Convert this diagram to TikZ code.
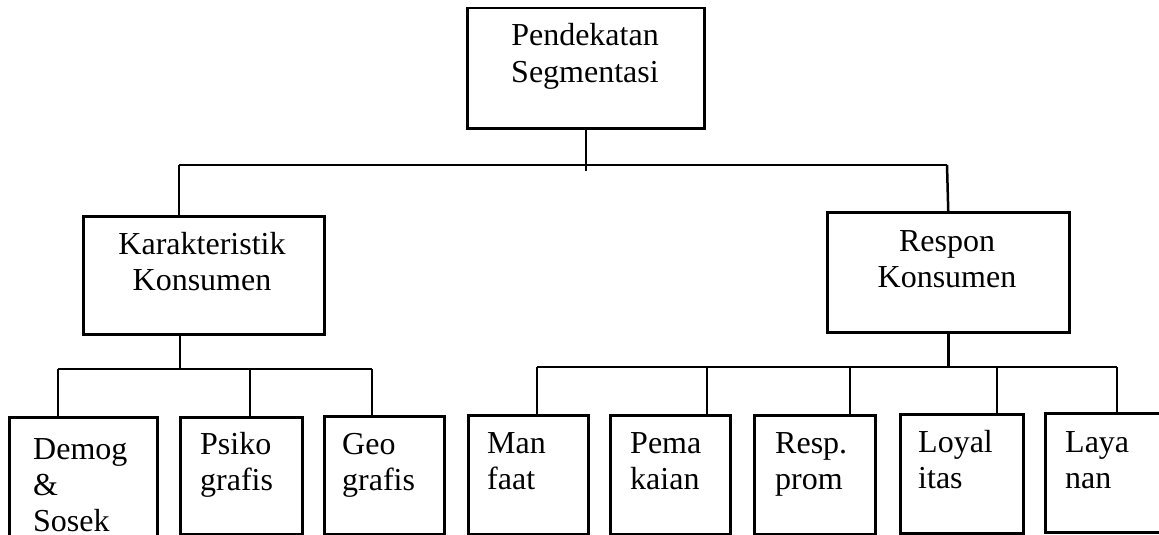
\documentclass[tikz,border=0pt]{standalone}
\usepackage{fontspec}
\setmainfont{Liberation Serif}
\begin{document}
\begin{tikzpicture}[x=1pt,y=-1pt,
  box/.style={draw, line width=2.5pt, inner sep=0pt, anchor=north west},
  wire/.style={line width=2.5pt},
  lbl/.style={inner sep=0pt, font=\fontsize{32}{36}\selectfont},
  lblc/.style={lbl, align=center, anchor=base},
  lbll/.style={lbl, align=left, anchor=base west}]
\useasboundingbox (0,0) rectangle (1159,535);
\clip (0,0) rectangle (1159,535);

% root and second level (label anchors sit on the last line's baseline)
\node[box, minimum width=237pt, minimum height=120pt] (root) at (466,7) {};
\node[box, minimum width=241pt, minimum height=118pt] (kar) at (82,215) {};
\node[box, minimum width=242pt, minimum height=120pt] (res) at (826,211) {};

\node[lblc] (troot) at (585,82) {Pendekatan\\Segmentasi};
\node[lblc] (tkar) at (202,290) {Karakteristik\\Konsumen};
\node[lblc] (tres) at (947,287) {Respon\\Konsumen};

% leaves under Karakteristik Konsumen
\node[box, minimum width=148pt, minimum height=140pt] (demog) at (8,416) {};
\node[box, minimum width=122pt, minimum height=117pt] (psiko) at (179,416) {};
\node[box, minimum width=120pt, minimum height=118pt] (geo) at (323,415) {};

\node[lbll] (tdemog) at (33,531) {Demog\\\&\\Sosek};
\node[lbll] (tpsiko) at (200,490) {Psiko\\grafis};
\node[lbll] (tgeo) at (342,490) {Geo\\grafis};

% leaves under Respon Konsumen
\node[box, minimum width=120pt, minimum height=119pt] (man) at (467,414) {};
\node[box, minimum width=120pt, minimum height=119pt] (pema) at (609,414) {};
\node[box, minimum width=121pt, minimum height=119pt] (resp) at (753,414) {};
\node[box, minimum width=123pt, minimum height=119pt] (loyal) at (899,413) {};
\node[box, minimum width=122pt, minimum height=119pt] (laya) at (1044,412) {};

\node[lbll] (tman) at (487,489) {Man\\faat};
\node[lbll] (tpema) at (630,489) {Pema\\kaian};
\node[lbll] (tresp) at (775,489) {Resp.\\prom};
\node[lbll] (tloyal) at (918,488) {Loyal\\itas};
\node[lbll] (tlaya) at (1065,488) {Laya\\nan};

% first-level bus
\coordinate (hL) at (179,165);
\coordinate (hR) at (947,165);
\draw[wire] (root.south) -- ([yshift=-6pt]root.south |- hL);
\draw[wire] (hL) -- (hR);
\draw[wire] (hL) -- (hL |- kar.north);
\draw[wire] (hR) -- (res.north);

% bus below Karakteristik Konsumen
\coordinate (kd) at (180,369);
\coordinate (k1) at (58,369);
\coordinate (k2) at (250,369);
\coordinate (k3) at (372,369);
\draw[wire] (kar.south -| kd) -- (kd);
\draw[wire] (k1) -- (k3);
\draw[wire] (k1) -- (k1 |- demog.north);
\draw[wire] (k2) -- (k2 |- psiko.north);
\draw[wire] (k3) -- (k3 |- geo.north);

% bus below Respon Konsumen
\coordinate (r1) at (537,367);
\coordinate (r2) at (707,367);
\coordinate (r3) at (850,367);
\coordinate (r4) at (997,367);
\coordinate (r5) at (1117,367);
\draw[wire] (res.south) -- (res.south |- r1);
\draw[wire] (r1) -- (r5);
\draw[wire] (r1) -- (r1 |- man.north);
\draw[wire] (r2) -- (r2 |- pema.north);
\draw[wire] (r3) -- (r3 |- resp.north);
\draw[wire] (r4) -- (r4 |- loyal.north);
\draw[wire] (r5) -- (r5 |- laya.north);
\end{tikzpicture}
\end{document}
